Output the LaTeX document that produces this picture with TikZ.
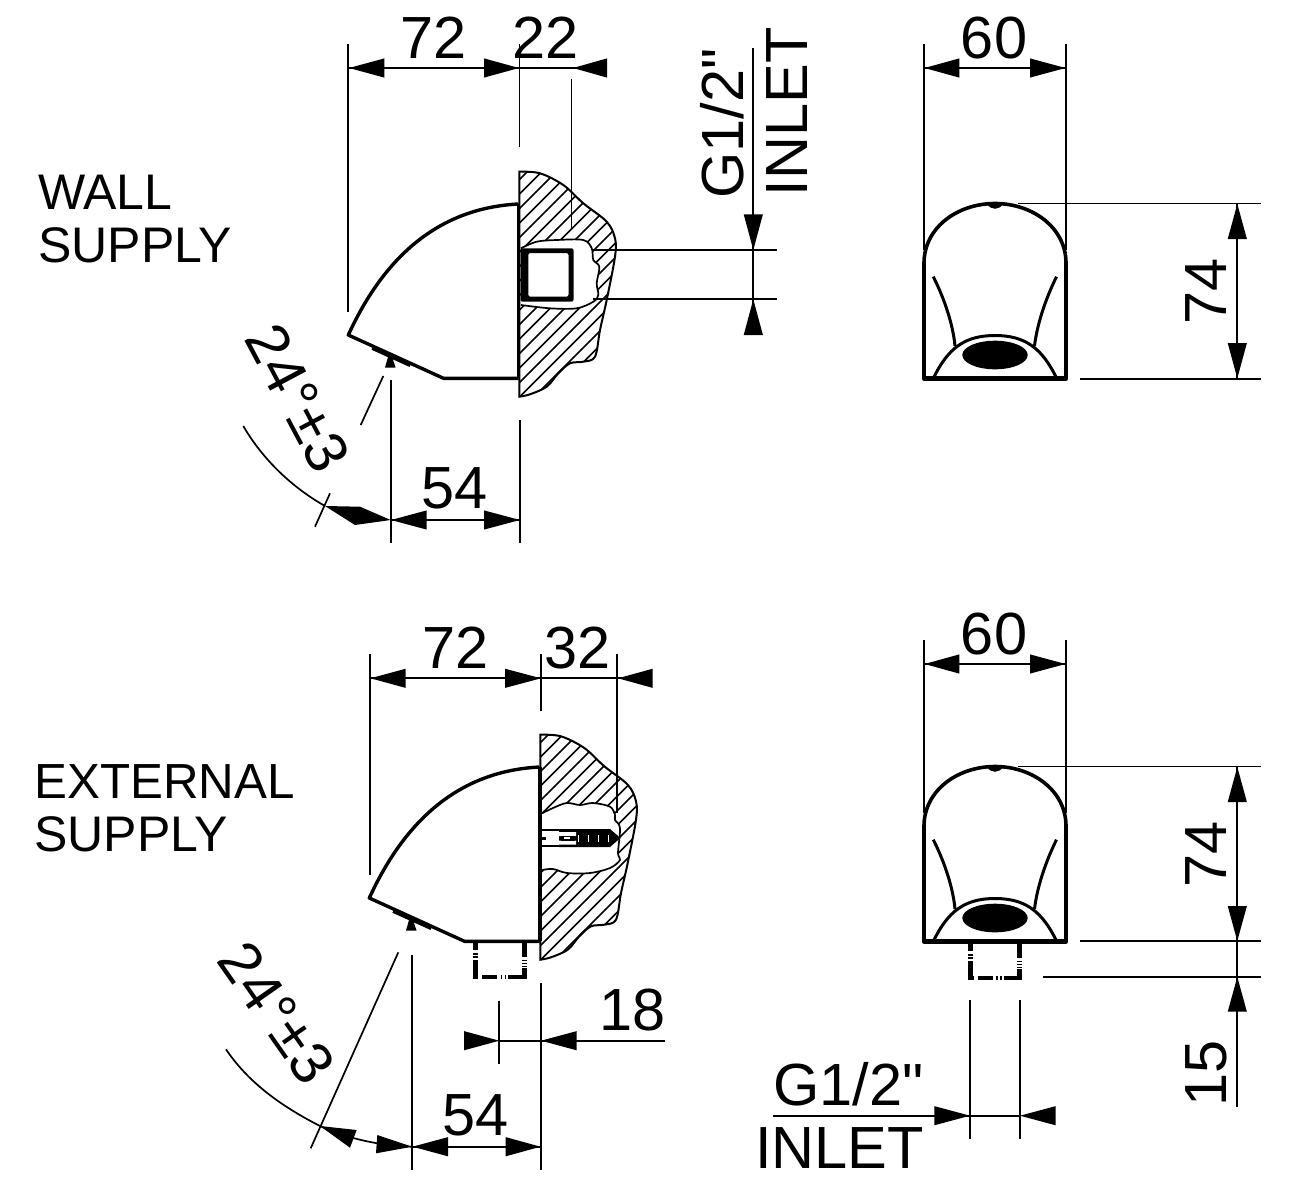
\documentclass[tikz,border=0pt]{standalone}
\usepackage{fontspec}
\setmainfont{Liberation Sans}
\newfontfamily\rawfont[Ligatures=NoCommon]{Liberation Sans}
\tikzset{
  dimtxt/.style={inner sep=0pt,outer sep=0pt,font=\fontsize{59.5}{59.5}\selectfont},
  lbl/.style={inner sep=0pt,outer sep=0pt,font=\fontsize{50}{50}\selectfont,anchor=base west},
  thinl/.style={line width=1.7pt,black},
  hatchl/.style={line width=1.7pt,black},
  bodyl/.style={line width=3.4pt,black,line join=round},
  thick5/.style={line width=5pt,black},
}
% axis aligned arrowheads
\newcommand{\myH}[3]{\fill[black] (#1,#3) -- (#2,#3-9.6) -- (#2,#3+9.6) -- cycle;}
\newcommand{\myV}[3]{\fill[black] (#1,#2) -- (#1-9.6,#3) -- (#1+9.6,#3) -- cycle;}
% two straight inch marks
\newcommand{\myInch}{\kern.05em\rule[.46em]{.055em}{.25em}\kern.085em\rule[.46em]{.055em}{.25em}\kern.05em}
% side view, common part (wall-supply position)
\newcommand{\mySide}{%
  \begin{scope}
    \clip plot[smooth,tension=.55] coordinates {(519.3,171.7) (540,173.3) (563.3,185) (583.3,203.3) (606.7,221.7) (615,238.3) (615,256.7) (606.7,300) (600,330) (595,356.7) (583.3,361.7) (570,363.3) (558.3,373.3) (546.7,386.7) (530,394.3) (519.3,396.7)} -- cycle;
    \foreach \c in {670,684.5,...,1045} {\draw[hatchl] (500,\c-500) -- (640,\c-640);}
  \end{scope}
  \draw[line width=2pt] plot[smooth,tension=.55] coordinates {(519.3,171.7) (540,173.3) (563.3,185) (583.3,203.3) (606.7,221.7) (615,238.3) (615,256.7) (606.7,300) (600,330) (595,356.7) (583.3,361.7) (570,363.3) (558.3,373.3) (546.7,386.7) (530,394.3) (519.3,396.7)} -- cycle;
  \draw[bodyl] (518.5,204) .. controls (440,208) and (385,255) .. (348.3,335) -- (443.5,378.3) -- (518.5,378.3);
  \draw[line width=2.5pt] (372,348.6) -- (410,365.8);
  \fill[black] (385,367.5) -- (395.5,367.5) -- (392,357) -- (388,357) -- cycle;
}
% front view
\newcommand{\myFront}{%
  \draw[line width=3.6pt] (924,263) .. controls (924,228) and (957,203.5) .. (995,203.5) .. controls (1033,203.5) and (1066,228) .. (1066,263);
  \draw[line width=4.6pt,line join=round] (924,262) -- (924,378.3) -- (1066,378.3) -- (1066,262);
  \draw[line width=3pt] (933.3,276.7) .. controls (945,300) and (953,325) .. (955,346);
  \draw[line width=3pt] (1056.5,276.7) .. controls (1045,300) and (1037,325) .. (1034.5,346);
  \draw[line width=3pt] (933.5,378) .. controls (948,348) and (965,335.5) .. (995,335.5) .. controls (1025,335.5) and (1042,348) .. (1056.5,378);
  \fill[black] (995,355) ellipse [x radius=32.7,y radius=14.3];
  \fill[black] (987,203.5) .. controls (990,210.5) and (1000,210.5) .. (1003,203.5) -- cycle;
}
% threaded connection, broken outline
\newcommand{\myFit}{%
  \draw[thick5] (475,941) -- (475,950) (475,960) -- (475,977);
  \draw[line width=1.4pt] (472.5,954) -- (477.5,954) (472.5,957) -- (477.5,957);
  \draw[thick5] (524,941) -- (524,957) (524,968) -- (524,977);
  \draw[line width=1.4pt] (521.5,960.5) -- (526.5,960.5) (521.5,963.5) -- (526.5,963.5) (521.5,966.5) -- (526.5,966.5);
  \draw[line width=3.8pt] (472.5,977) -- (478,977) (482,977) -- (497,977) (508,977) -- (526.5,977);
  \draw[line width=1.3pt] (501.5,974.5) -- (501.5,979) (505.5,974.5) -- (505.5,979);
}
\begin{document}
\begin{tikzpicture}[x=1pt,y=-1pt]
\useasboundingbox (0,0) rectangle (1299,1181);
\fill[white] (0,0) rectangle (1299,1181);

% ===== WALL SUPPLY, side view =====
\mySide
\draw[hatchl,fill=white] plot[smooth,tension=.55] coordinates {(521,248.3) (536.7,241.7) (556.7,240) (583.3,240) (591.7,248.3) (593.3,260) (599.3,266.7) (596.7,283.3) (598.3,295) (593.3,301.7) (576.7,308.3) (550,308.3) (521,305)};
\draw[black,line width=3.6pt] (518.5,204) -- (518.5,378.3);
\fill[black,even odd rule,rounded corners=2pt] (520.5,248.3) rectangle (573.5,301.7) (528.3,253) rectangle (568.5,296.7);
% dimensions
\draw[thinl] (348.3,44.3) -- (348.3,311.7);
\draw[thinl] (519.5,44.3) -- (519.5,147);
\draw[thinl] (571.5,79) -- (571.5,228.3);
\draw[thinl] (348.3,68) -- (600,68);
\myH{349}{384.3}{68} \myH{519}{484}{68} \myH{573}{607}{68}
\draw[thinl] (593,249.8) -- (776.7,249.8);
\draw[thinl] (593,299.3) -- (776.7,299.3);
\draw[thinl] (753.3,48.3) -- (753.3,330);
\myV{753.3}{250}{214.3} \myV{753.3}{299.3}{335}
\draw[thinl] (360.7,425) -- (383.3,376);
\draw[thinl] (391,380) -- (391,543);
\draw[thinl] (520,420) -- (520,543);
\draw[thinl] (391,520) -- (520,520);
\myH{391}{426.7}{520} \myH{520}{484}{520}
\draw[thinl] (243.3,426) .. controls (263,460) and (293,488) .. (325,506);
\draw[thinl] (315,526.7) -- (330,493.3);
\fill[black] (325,506) -- (360,506.7) -- (390.7,520) -- (355,525) -- cycle;

% ===== WALL SUPPLY, front view =====
\myFront
\draw[thinl] (924,44) -- (924,250);
\draw[thinl] (1065.7,44) -- (1065.7,250);
\draw[thinl] (924,68) -- (1065.7,68);
\myH{924.5}{959.3}{68} \myH{1065.5}{1030}{68}
\draw[thinl] (1018,203.5) -- (1260.7,203.5);
\draw[thinl] (1080,378.7) -- (1260.7,378.7);
\draw[thinl] (1237.3,203.5) -- (1237.3,378.7);
\myV{1237.3}{204}{239} \myV{1237.3}{378.3}{343}

% ===== EXTERNAL SUPPLY, side view =====
\begin{scope}[shift={(21,563)}]
\mySide
\end{scope}
\draw[hatchl,fill=white] plot[smooth,tension=.55] coordinates {(542,813.3) (553,808) (566.7,803) (580,805) (593,803) (610,806.7) (615,815) (615,820) (620,828) (618,853) (620,860) (610,868) (590,873) (567,873) (553,869) (542,870)};
\draw[black,line width=4.4pt] (540,766.7) -- (540,941);
% screw
\draw[line width=2.4pt] (541,830) -- (562,830) (541,846) -- (562,846);
\fill[black] (559,829) -- (610,829) -- (620.5,838) -- (610,847) -- (559,847) -- cycle;
\fill[white] (559,832) rectangle (576,836) (559,840.5) rectangle (576,844.5);
\fill[black] (561,835.5) rectangle (575,841);
\fill[white] (564,837.2) rectangle (570,839);
\foreach \q in {578,588,598,608} {\fill[white] (\q,835) rectangle (\q+1.2,841.5);}
\fill[black] (542,836.5) rectangle (546,840);
\myFit
% dimensions
\draw[thinl] (370,654.3) -- (370,875);
\draw[thinl] (541,654.3) -- (541,711);
\draw[thinl] (617.3,654.3) -- (617.3,813);
\draw[thinl] (370,678.3) -- (630,678.3);
\myH{370.5}{405.7}{678.3} \myH{541}{505}{678.3} \myH{618}{652.7}{678.3}
\draw[thinl] (398.3,952.3) -- (310.7,1148.3);
\draw[thinl] (412.3,955) -- (412.3,1170);
\draw[thinl] (540.7,983) -- (540.7,1170);
\draw[thinl] (412.3,1146.7) -- (540.7,1146.7);
\myH{412.5}{448}{1146.7} \myH{540.5}{505.7}{1146.7}
\draw[thinl] (226,1049.3) .. controls (250,1085) and (285,1108) .. (320,1126);
\draw[thinl] (320,1126) .. controls (350,1140) and (385,1146) .. (412,1146.7);
\fill[black] (320,1126) -- (356.7,1130) -- (350,1147.7) -- cycle;
\fill[black] (412.3,1146.7) -- (377.3,1135) -- (376,1153.3) -- cycle;
\draw[thinl] (499.3,1000.7) -- (499.3,1064);
\draw[thinl] (499.3,1040.7) -- (665,1040.7);
\myH{499.3}{464}{1040.7} \myH{541}{576.7}{1040.7}

% ===== EXTERNAL SUPPLY, front view =====
\begin{scope}[shift={(0,563)}]
\myFront
\end{scope}
\begin{scope}[shift={(495.5,1)}]
\myFit
\end{scope}
\draw[thinl] (924,640) -- (924,813);
\draw[thinl] (1065.7,640) -- (1065.7,813);
\draw[thinl] (924,664) -- (1065.7,664);
\myH{924.5}{959.3}{664} \myH{1065.5}{1030}{664}
\draw[thinl] (1018,766.5) -- (1260.7,766.5);
\draw[thinl] (1080,941.3) -- (1260.7,941.3);
\draw[thinl] (1043,976.7) -- (1260.7,976.7);
\draw[thinl] (1237.3,766.5) -- (1237.3,1106.7);
\myV{1237.3}{767}{802} \myV{1237.3}{941}{906}
\myV{1237.3}{977}{1011.7}
\draw[thinl] (970,1000) -- (970,1139.3);
\draw[thinl] (1020,1000) -- (1020,1139.3);
\draw[thinl] (773,1115.7) -- (1020,1115.7);
\myH{970}{934.3}{1115.7} \myH{1020}{1055.7}{1115.7}

% ===== TEXTS =====
\node[lbl] (tWall) at (38.3,209) {WALL};
\node[lbl] (tSup1) at (38.5,262) {SUPPLY};
\node[lbl,font=\fontsize{49.3}{49.3}\selectfont] (tExt) at (34.5,798) {EXTERNAL};
\node[lbl] (tSup2) at (34.5,851) {SUPPLY};
\node[dimtxt,anchor=base] (d72a) at (433.5,58) {72};
\node[dimtxt,anchor=base] (d22) at (545.5,58) {22};
\node[dimtxt,anchor=base] (d60a) at (994,58) {60};
\node[dimtxt,anchor=base] (d72b) at (455.5,668) {72};
\node[dimtxt,anchor=base] (d32) at (578,668) {32};
\node[dimtxt,anchor=base] (d60b) at (994,654) {60};
\node[dimtxt,anchor=base] (d54a) at (455,508) {54};
\node[dimtxt,anchor=base] (d54b) at (476,1135) {54};
\node[dimtxt,anchor=base] (d18) at (633,1030) {18};
\node[dimtxt,anchor=base,rotate=90] (d74a) at (1226,291.7) {74};
\node[dimtxt,anchor=base,rotate=90] (d74b) at (1226,854.7) {74};
\node[dimtxt,anchor=base,rotate=90] (d15) at (1226,1073) {15};
\node[dimtxt,anchor=base,rotate=90] (gA) at (743,123.5) {G1/2{\rawfont"}};
\node[dimtxt,anchor=base,rotate=90] (iA) at (807,111.7) {INLET};
\node[dimtxt,anchor=base] (gB) at (848.5,1105) {G1/2{\rawfont"}};
\node[dimtxt,anchor=base] (iB) at (839.5,1168) {INLET};
\node[dimtxt,anchor=center,rotate=-62] (angA) at (298,398) {24°±3};
\node[dimtxt,anchor=center,rotate=-55] (angB) at (277,1013) {24°±3};
\end{tikzpicture}
\end{document}
